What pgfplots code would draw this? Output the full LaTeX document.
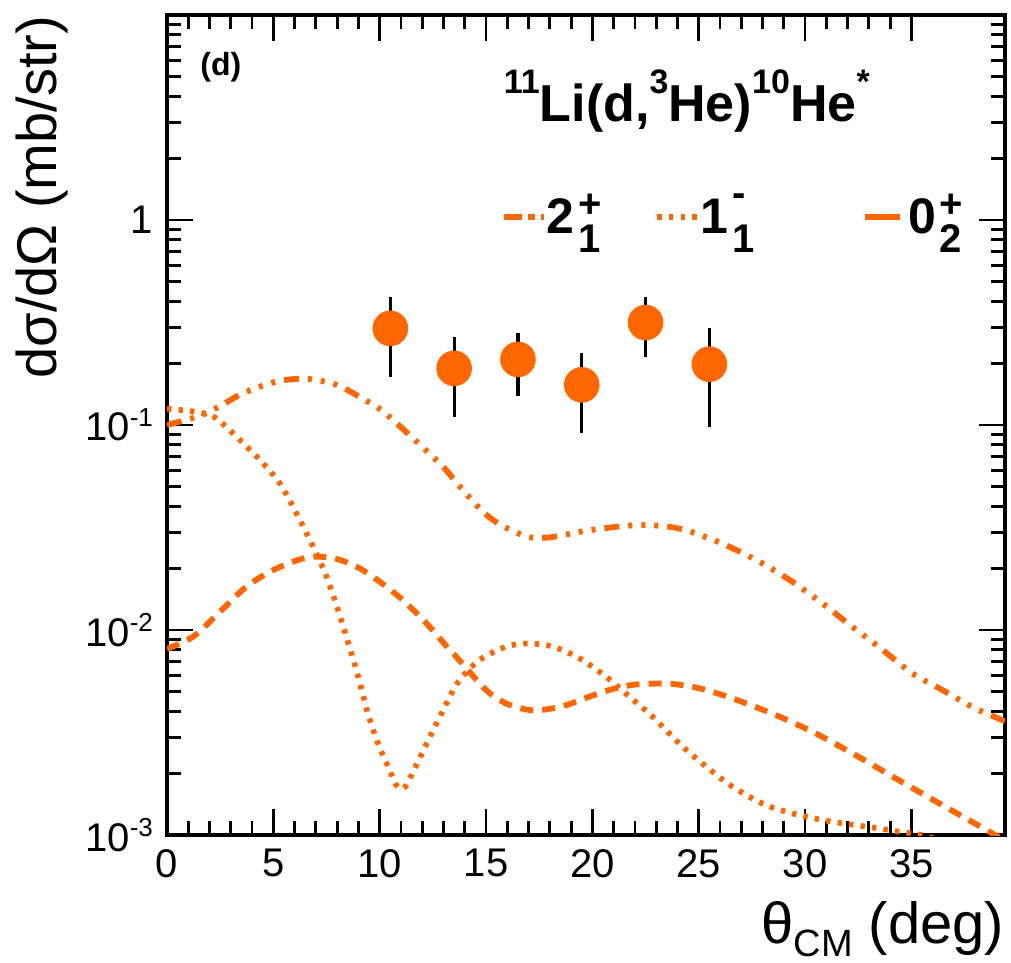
\documentclass[border=0pt]{standalone}
\usepackage{fontspec}
\setmainfont{Liberation Sans}
\usepackage{pgfplots}
\pgfplotsset{compat=1.18}
\definecolor{orng}{RGB}{255,102,0}
\newcommand{\tsp}[1]{\raisebox{3.6pt}{\fontsize{6.5}{7}\selectfont #1}}
\newcommand{\lev}[4]{#1\kern1pt\makebox[0pt][l]{\raisebox{#4}{\fontsize{10}{10}\selectfont #3}}\raisebox{-4.75pt}{\fontsize{10}{10}\selectfont #2}}
\newcommand{\hsup}[1]{\raisebox{7pt}{\fontsize{8.5}{9}\selectfont #1}}
\pgfplotsset{
  legA/.style={legend image code/.code={\path (0pt,0pt) -- (10pt,0pt); \draw[##1] (0.75pt,0pt) -- (8.75pt,0pt);}},
  legB/.style={legend image code/.code={\path (0pt,0pt) -- (10pt,0pt); \draw[##1] (0pt,0pt) -- (7pt,0pt);}},
  legC/.style={legend image code/.code={\path (0pt,0pt) -- (10pt,0pt); \draw[##1,solid] (1.75pt,0pt) -- (6.25pt,0pt);}},
}

\pgfplotstableread{
x y ep em
10.5 0.296 0.124 0.124
13.5 0.189 0.081 0.079
16.5 0.209 0.071 0.071
19.5 0.157 0.067 0.066
22.5 0.316 0.104 0.102
25.5 0.198 0.098 0.100
}\datatab

\begin{document}
\begin{tikzpicture}
\begin{axis}[
  scale only axis, width=209.5pt, height=205pt,
  xmin=0, xmax=39.4, ymode=log, ymin=1e-3, ymax=10,
  xtick={0,5,...,35}, minor x tick num=4,
  ytick={0.001,0.01,0.1,1,10},
  yticklabels={10\tsp{-3},10\tsp{-2},10\tsp{-1},1,{}},
  tick align=inside, xtick pos=both, ytick pos=both,
  xticklabel pos=bottom, yticklabel pos=left,
  major tick length=6.5pt, minor tick length=3.5pt,
  every tick/.style={black, line width=0.7pt},
  axis line style={line width=0.8pt},
  tick label style={font=\fontsize{10}{12}\selectfont},
  /pgf/number format/assume math mode=true,
  xlabel={θ\raisebox{-3.25pt}{\fontsize{9.5}{10}\selectfont CM} (deg)},
  xlabel style={at={(rel axis cs:1,0)}, anchor=base east, yshift=-27pt, inner sep=0pt, font=\fontsize{14.5}{16}\selectfont},
  ylabel={dσ/dΩ (mb/str)},
  ylabel style={at={(rel axis cs:-0.1814,1)}, anchor=north east, inner sep=0pt, font=\fontsize{14}{15}\selectfont},
  legend columns=3,
  legend style={draw=none, fill=none, at={(rel axis cs:0.3974,0.7537)}, anchor=west, inner sep=0pt,
    nodes={inner sep=0pt}, column sep=0pt, font=\bfseries\fontsize{12.5}{14}\selectfont},
  legend cell align=left,
]
\addplot[orng, line width=1.45pt, smooth, no markers,
  dash pattern=on 3.75pt off 2.25pt on 1pt off 2.25pt on 1pt off 2.25pt on 1pt off 2.25pt, legA]
coordinates {
(0,0.100) (1.55,0.111) (2.57,0.125) (3.58,0.143) (5.15,0.163) (6.56,0.168) (7.97,0.157)
(9.06,0.137) (10.08,0.118) (11.4,0.0894) (12.97,0.0627) (13.7,0.051) (14.85,0.0378)
(15.71,0.0325) (16.96,0.0285) (17.98,0.0283) (19.7,0.0305) (21.42,0.0321) (22.52,0.0325)
(23.77,0.0317) (24.87,0.0296) (26.43,0.0255) (28.0,0.0211) (29.4,0.0172) (30.81,0.0135)
(32.2,0.0104) (33.55,0.00814) (35.04,0.00615) (36.45,0.0051) (37.85,0.00422) (39.26,0.00364) (39.4,0.0036)
};
\addlegendentry{\makebox[27pt][l]{\lev{2}{1}{+}{4.1pt}}}
\addplot[orng, line width=1.4pt, smooth, no markers,
  dash pattern=on 1.1pt off 1.8pt, legB]
coordinates {
(0,0.120) (1.08,0.117) (2.0,0.112) (2.5,0.104) (3.43,0.0845) (4.37,0.0675) (5.3,0.052)
(6.09,0.037) (6.87,0.0255) (7.5,0.0182) (8.12,0.0118) (8.9,0.0064) (9.45,0.0039)
(9.92,0.0028) (10.39,0.00216) (10.78,0.00175) (11.0,0.00168) (11.25,0.00175) (11.72,0.00219)
(12.35,0.0030) (13.0,0.0041) (13.7,0.0056) (14.7,0.00715) (15.95,0.0083) (16.96,0.0086)
(18.14,0.0083) (19.39,0.00728) (20.64,0.00592) (21.74,0.00473) (22.83,0.00378) (24.08,0.0028)
(25.2,0.00222) (26.59,0.00172) (28.15,0.0014) (29.72,0.00125) (31.28,0.00116) (32.85,0.0011)
(34.4,0.00104) (35.5,0.00100) (37,0.00090) (39.4,0.00080)
};
\addlegendentry{\makebox[40.5pt][l]{\lev{1}{1}{-}{6.8pt}}}
\addplot[orng, line width=1.45pt, smooth, no markers,
  dash pattern=on 3.25pt off 2.25pt, legC]
coordinates {
(0,0.0081) (1.24,0.0093) (2.57,0.0125) (3.74,0.0163) (4.99,0.0196) (6.24,0.0221) (7.1,0.0228)
(8.12,0.0220) (9.06,0.0200) (10.0,0.0172) (11.09,0.0140) (12.19,0.0108) (13.29,0.0080)
(13.6,0.0074) (15.0,0.0051) (15.95,0.00438) (17.04,0.00407) (17.83,0.0041) (18.77,0.0043)
(19.86,0.00473) (20.8,0.0051) (21.89,0.0054) (23.0,0.00548) (23.77,0.00546) (25.02,0.0052)
(26.59,0.00464) (28.62,0.00385) (30.5,0.00313) (32.38,0.00245) (34.26,0.00189)
(36.14,0.00146) (37.85,0.00116) (38.79,0.00102) (39.4,0.00094)
};
\addlegendentry{\lev{0}{2}{+}{4.1pt}}
\addplot[only marks, mark=*, mark size=4.25pt, mark options={fill=orng, draw=orng},
  error bars/.cd, y dir=both, y explicit, error mark=none,
  error bar style={black, line width=0.8pt}]
  table[x=x, y=y, y error plus=ep, y error minus=em] {\datatab};
\coordinate (ll) at (rel axis cs:0,0);
\coordinate (ur) at (rel axis cs:1,1);
\node[anchor=base west, inner sep=0pt, font=\bfseries\fontsize{8}{9}\selectfont] at (rel axis cs:0.039,0.9256) {(d)};
\node[anchor=base west, inner sep=0pt, font=\bfseries\fontsize{13}{14}\selectfont] at (rel axis cs:0.401,0.8695)
  {\hsup{11}Li(d,\hsup{3}He)\hsup{10}He\hsup{*}};
\end{axis}
\path ([shift={(-41.75pt,-31.75pt)}]ll) rectangle ([shift={(1.5pt,3.75pt)}]ur);
\end{tikzpicture}
\end{document}
